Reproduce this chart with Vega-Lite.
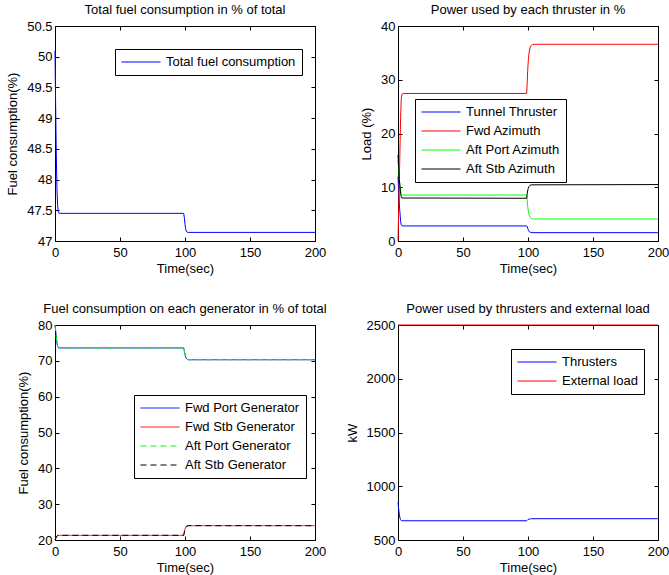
{
  "$schema": "https://vega.github.io/schema/vega-lite/v6.json",
  "padding": {"left": 6, "top": 3, "right": 5, "bottom": 0},
  "bounds": "flush",
  "columns": 2,
  "spacing": {"row": 84, "column": 83},
  "datasets": {
    "p1": [
      {"s": "Total fuel consumption", "t": 0, "v": 50.1},
      {"s": "Total fuel consumption", "t": 0.5, "v": 49.2},
      {"s": "Total fuel consumption", "t": 1, "v": 48.4},
      {"s": "Total fuel consumption", "t": 1.5, "v": 47.85},
      {"s": "Total fuel consumption", "t": 2, "v": 47.58},
      {"s": "Total fuel consumption", "t": 2.5, "v": 47.48},
      {"s": "Total fuel consumption", "t": 3, "v": 47.455},
      {"s": "Total fuel consumption", "t": 4, "v": 47.45},
      {"s": "Total fuel consumption", "t": 99, "v": 47.45},
      {"s": "Total fuel consumption", "t": 99.5, "v": 47.38},
      {"s": "Total fuel consumption", "t": 100, "v": 47.27},
      {"s": "Total fuel consumption", "t": 100.5, "v": 47.2},
      {"s": "Total fuel consumption", "t": 101, "v": 47.16},
      {"s": "Total fuel consumption", "t": 101.5, "v": 47.145},
      {"s": "Total fuel consumption", "t": 102.5, "v": 47.14},
      {"s": "Total fuel consumption", "t": 200, "v": 47.14}
    ],
    "p2": [
      {"s": "Tunnel Thruster", "t": 0, "v": 12},
      {"s": "Tunnel Thruster", "t": 1, "v": 7},
      {"s": "Tunnel Thruster", "t": 2, "v": 3.6},
      {"s": "Tunnel Thruster", "t": 2.5, "v": 3.0},
      {"s": "Tunnel Thruster", "t": 3, "v": 2.85},
      {"s": "Tunnel Thruster", "t": 4, "v": 2.8},
      {"s": "Tunnel Thruster", "t": 99, "v": 2.8},
      {"s": "Tunnel Thruster", "t": 99.5, "v": 2.6},
      {"s": "Tunnel Thruster", "t": 100, "v": 2.2},
      {"s": "Tunnel Thruster", "t": 100.5, "v": 1.9},
      {"s": "Tunnel Thruster", "t": 101, "v": 1.72},
      {"s": "Tunnel Thruster", "t": 102, "v": 1.6},
      {"s": "Tunnel Thruster", "t": 103, "v": 1.55},
      {"s": "Tunnel Thruster", "t": 200, "v": 1.55},
      {"s": "Fwd Azimuth", "t": 0, "v": 0},
      {"s": "Fwd Azimuth", "t": 1, "v": 11},
      {"s": "Fwd Azimuth", "t": 2, "v": 23},
      {"s": "Fwd Azimuth", "t": 2.5, "v": 26.5},
      {"s": "Fwd Azimuth", "t": 3, "v": 27.3},
      {"s": "Fwd Azimuth", "t": 4, "v": 27.45},
      {"s": "Fwd Azimuth", "t": 99, "v": 27.45},
      {"s": "Fwd Azimuth", "t": 99.3, "v": 29},
      {"s": "Fwd Azimuth", "t": 99.7, "v": 31.5},
      {"s": "Fwd Azimuth", "t": 100.2, "v": 33.5},
      {"s": "Fwd Azimuth", "t": 100.8, "v": 35},
      {"s": "Fwd Azimuth", "t": 101.5, "v": 35.9},
      {"s": "Fwd Azimuth", "t": 102.5, "v": 36.4},
      {"s": "Fwd Azimuth", "t": 103.5, "v": 36.55},
      {"s": "Fwd Azimuth", "t": 105, "v": 36.6},
      {"s": "Fwd Azimuth", "t": 200, "v": 36.6},
      {"s": "Aft Port Azimuth", "t": 0, "v": 15},
      {"s": "Aft Port Azimuth", "t": 1, "v": 11.5},
      {"s": "Aft Port Azimuth", "t": 2, "v": 9.3},
      {"s": "Aft Port Azimuth", "t": 2.5, "v": 8.8},
      {"s": "Aft Port Azimuth", "t": 3, "v": 8.6},
      {"s": "Aft Port Azimuth", "t": 4, "v": 8.55},
      {"s": "Aft Port Azimuth", "t": 99, "v": 8.55},
      {"s": "Aft Port Azimuth", "t": 99.3, "v": 7.8},
      {"s": "Aft Port Azimuth", "t": 99.7, "v": 6.6},
      {"s": "Aft Port Azimuth", "t": 100.2, "v": 5.6},
      {"s": "Aft Port Azimuth", "t": 100.8, "v": 4.9},
      {"s": "Aft Port Azimuth", "t": 101.5, "v": 4.45},
      {"s": "Aft Port Azimuth", "t": 102.5, "v": 4.2},
      {"s": "Aft Port Azimuth", "t": 103.5, "v": 4.1},
      {"s": "Aft Port Azimuth", "t": 200, "v": 4.1},
      {"s": "Aft Stb Azimuth", "t": 0, "v": 16},
      {"s": "Aft Stb Azimuth", "t": 1, "v": 11.5},
      {"s": "Aft Stb Azimuth", "t": 2, "v": 8.8},
      {"s": "Aft Stb Azimuth", "t": 2.5, "v": 8.2},
      {"s": "Aft Stb Azimuth", "t": 3, "v": 8.0},
      {"s": "Aft Stb Azimuth", "t": 99, "v": 7.95},
      {"s": "Aft Stb Azimuth", "t": 99.3, "v": 8.6},
      {"s": "Aft Stb Azimuth", "t": 99.7, "v": 9.3},
      {"s": "Aft Stb Azimuth", "t": 100.2, "v": 9.8},
      {"s": "Aft Stb Azimuth", "t": 100.8, "v": 10.15},
      {"s": "Aft Stb Azimuth", "t": 101.5, "v": 10.35},
      {"s": "Aft Stb Azimuth", "t": 102.5, "v": 10.45},
      {"s": "Aft Stb Azimuth", "t": 200, "v": 10.5}
    ],
    "p3": [
      {"s": "Fwd Port Generator", "t": 0, "v": 80},
      {"s": "Fwd Port Generator", "t": 0.5, "v": 78.5},
      {"s": "Fwd Port Generator", "t": 1, "v": 76.5},
      {"s": "Fwd Port Generator", "t": 1.5, "v": 75},
      {"s": "Fwd Port Generator", "t": 2, "v": 74.1},
      {"s": "Fwd Port Generator", "t": 2.5, "v": 73.7},
      {"s": "Fwd Port Generator", "t": 3, "v": 73.6},
      {"s": "Fwd Port Generator", "t": 99, "v": 73.6},
      {"s": "Fwd Port Generator", "t": 99.3, "v": 73.2},
      {"s": "Fwd Port Generator", "t": 99.7, "v": 72.3},
      {"s": "Fwd Port Generator", "t": 100.2, "v": 71.4},
      {"s": "Fwd Port Generator", "t": 100.8, "v": 70.8},
      {"s": "Fwd Port Generator", "t": 101.5, "v": 70.45},
      {"s": "Fwd Port Generator", "t": 102.5, "v": 70.3},
      {"s": "Fwd Port Generator", "t": 200, "v": 70.3},
      {"s": "Fwd Stb Generator", "t": 0, "v": 20},
      {"s": "Fwd Stb Generator", "t": 0.5, "v": 20.4},
      {"s": "Fwd Stb Generator", "t": 1, "v": 20.8},
      {"s": "Fwd Stb Generator", "t": 1.5, "v": 21.1},
      {"s": "Fwd Stb Generator", "t": 2, "v": 21.25},
      {"s": "Fwd Stb Generator", "t": 3, "v": 21.3},
      {"s": "Fwd Stb Generator", "t": 99, "v": 21.3},
      {"s": "Fwd Stb Generator", "t": 99.3, "v": 21.8},
      {"s": "Fwd Stb Generator", "t": 99.7, "v": 22.6},
      {"s": "Fwd Stb Generator", "t": 100.2, "v": 23.3},
      {"s": "Fwd Stb Generator", "t": 100.8, "v": 23.7},
      {"s": "Fwd Stb Generator", "t": 101.5, "v": 23.9},
      {"s": "Fwd Stb Generator", "t": 102.5, "v": 24.0},
      {"s": "Fwd Stb Generator", "t": 200, "v": 24.0},
      {"s": "Aft Port Generator", "t": 0, "v": 80},
      {"s": "Aft Port Generator", "t": 0.5, "v": 78.5},
      {"s": "Aft Port Generator", "t": 1, "v": 76.5},
      {"s": "Aft Port Generator", "t": 1.5, "v": 75},
      {"s": "Aft Port Generator", "t": 2, "v": 74.1},
      {"s": "Aft Port Generator", "t": 2.5, "v": 73.7},
      {"s": "Aft Port Generator", "t": 3, "v": 73.6},
      {"s": "Aft Port Generator", "t": 99, "v": 73.6},
      {"s": "Aft Port Generator", "t": 99.3, "v": 73.2},
      {"s": "Aft Port Generator", "t": 99.7, "v": 72.3},
      {"s": "Aft Port Generator", "t": 100.2, "v": 71.4},
      {"s": "Aft Port Generator", "t": 100.8, "v": 70.8},
      {"s": "Aft Port Generator", "t": 101.5, "v": 70.45},
      {"s": "Aft Port Generator", "t": 102.5, "v": 70.3},
      {"s": "Aft Port Generator", "t": 200, "v": 70.3},
      {"s": "Aft Stb Generator", "t": 0, "v": 20},
      {"s": "Aft Stb Generator", "t": 0.5, "v": 20.4},
      {"s": "Aft Stb Generator", "t": 1, "v": 20.8},
      {"s": "Aft Stb Generator", "t": 1.5, "v": 21.1},
      {"s": "Aft Stb Generator", "t": 2, "v": 21.25},
      {"s": "Aft Stb Generator", "t": 3, "v": 21.3},
      {"s": "Aft Stb Generator", "t": 99, "v": 21.3},
      {"s": "Aft Stb Generator", "t": 99.3, "v": 21.8},
      {"s": "Aft Stb Generator", "t": 99.7, "v": 22.6},
      {"s": "Aft Stb Generator", "t": 100.2, "v": 23.3},
      {"s": "Aft Stb Generator", "t": 100.8, "v": 23.7},
      {"s": "Aft Stb Generator", "t": 101.5, "v": 23.9},
      {"s": "Aft Stb Generator", "t": 102.5, "v": 24.0},
      {"s": "Aft Stb Generator", "t": 200, "v": 24.0}
    ],
    "p4": [
      {"s": "Thrusters", "t": 0, "v": 850},
      {"s": "Thrusters", "t": 0.5, "v": 790},
      {"s": "Thrusters", "t": 1, "v": 740},
      {"s": "Thrusters", "t": 1.5, "v": 705},
      {"s": "Thrusters", "t": 2, "v": 688},
      {"s": "Thrusters", "t": 2.5, "v": 681},
      {"s": "Thrusters", "t": 3, "v": 679},
      {"s": "Thrusters", "t": 99, "v": 679},
      {"s": "Thrusters", "t": 99.5, "v": 684},
      {"s": "Thrusters", "t": 100, "v": 690},
      {"s": "Thrusters", "t": 101, "v": 695},
      {"s": "Thrusters", "t": 102, "v": 697},
      {"s": "Thrusters", "t": 103, "v": 698},
      {"s": "Thrusters", "t": 200, "v": 698},
      {"s": "External load", "t": 0, "v": 2500},
      {"s": "External load", "t": 200, "v": 2500}
    ]
  },
  "concat": [
    {
      "width": 260, "height": 215,
      "title": {"text": "Total fuel consumption in % of total"},
      "data": {"name": "p1"},
      "layer": [
        {
          "mark": {"type": "line", "strokeWidth": 1},
          "encoding": {
            "x": {"field": "t", "type": "quantitative", "scale": {"domain": [0, 200], "nice": false}, "axis": {"title": "Time(sec)", "values": [0, 50, 100, 150, 200]}},
            "y": {"field": "v", "type": "quantitative", "scale": {"domain": [47, 50.5], "nice": false, "zero": false}, "axis": {"title": "Fuel consumption(%)", "values": [47, 47.5, 48, 48.5, 49, 49.5, 50, 50.5], "format": "~g"}},
            "color": {"field": "s", "type": "nominal", "scale": {"domain": ["Total fuel consumption"], "range": ["#0000ff"]}, "legend": {"title": null, "legendX": 60, "legendY": 23}}
          }
        },
        {
          "mark": {"type": "line", "opacity": 0},
          "encoding": {
            "x": {"field": "t", "type": "quantitative", "axis": {"orient": "top", "labels": false, "title": null, "values": [0, 50, 100, 150, 200]}},
            "y": {"field": "v", "type": "quantitative", "axis": {"orient": "right", "labels": false, "title": null, "values": [47, 47.5, 48, 48.5, 49, 49.5, 50, 50.5]}}
          }
        }
      ],
      "resolve": {"axis": {"x": "independent", "y": "independent"}}
    },
    {
      "width": 260, "height": 215,
      "title": {"text": "Power used by each thruster in %"},
      "data": {"name": "p2"},
      "layer": [
        {
          "mark": {"type": "line", "strokeWidth": 1},
          "encoding": {
            "x": {"field": "t", "type": "quantitative", "scale": {"domain": [0, 200], "nice": false}, "axis": {"title": "Time(sec)", "values": [0, 50, 100, 150, 200]}},
            "y": {"field": "v", "type": "quantitative", "scale": {"domain": [0, 40], "nice": false}, "axis": {"title": "Load (%)", "values": [0, 10, 20, 30, 40]}},
            "color": {"field": "s", "type": "nominal", "scale": {"domain": ["Tunnel Thruster", "Fwd Azimuth", "Aft Port Azimuth", "Aft Stb Azimuth"], "range": ["#0000ff", "#ff0000", "#00ff00", "#000000"]}, "legend": {"title": null, "legendX": 17, "legendY": 73}}
          }
        },
        {
          "mark": {"type": "line", "opacity": 0},
          "encoding": {
            "x": {"field": "t", "type": "quantitative", "axis": {"orient": "top", "labels": false, "title": null, "values": [0, 50, 100, 150, 200]}},
            "y": {"field": "v", "type": "quantitative", "axis": {"orient": "right", "labels": false, "title": null, "values": [0, 10, 20, 30, 40]}}
          }
        }
      ],
      "resolve": {"axis": {"x": "independent", "y": "independent"}}
    },
    {
      "width": 260, "height": 215,
      "title": {"text": "Fuel consumption on each generator in % of total"},
      "data": {"name": "p3"},
      "layer": [
        {
          "mark": {"type": "line", "strokeWidth": 1},
          "encoding": {
            "x": {"field": "t", "type": "quantitative", "scale": {"domain": [0, 200], "nice": false}, "axis": {"title": "Time(sec)", "values": [0, 50, 100, 150, 200]}},
            "y": {"field": "v", "type": "quantitative", "scale": {"domain": [20, 80], "nice": false, "zero": false}, "axis": {"title": "Fuel consumption(%)", "values": [20, 30, 40, 50, 60, 70, 80]}},
            "color": {"field": "s", "type": "nominal", "scale": {"domain": ["Fwd Port Generator", "Fwd Stb Generator", "Aft Port Generator", "Aft Stb Generator"], "range": ["#0000ff", "#ff0000", "#00ff00", "#000000"]}, "legend": {"title": null, "legendX": 79, "legendY": 70}},
            "strokeDash": {"field": "s", "type": "nominal", "scale": {"domain": ["Fwd Port Generator", "Fwd Stb Generator", "Aft Port Generator", "Aft Stb Generator"], "range": [[1, 0], [1, 0], [6, 4], [6, 4]]}, "legend": {"title": null, "legendX": 79, "legendY": 70}}
          }
        },
        {
          "mark": {"type": "line", "opacity": 0},
          "encoding": {
            "x": {"field": "t", "type": "quantitative", "axis": {"orient": "top", "labels": false, "title": null, "values": [0, 50, 100, 150, 200]}},
            "y": {"field": "v", "type": "quantitative", "axis": {"orient": "right", "labels": false, "title": null, "values": [20, 30, 40, 50, 60, 70, 80]}}
          }
        }
      ],
      "resolve": {"axis": {"x": "independent", "y": "independent"}}
    },
    {
      "width": 260, "height": 215,
      "title": {"text": "Power used by thrusters and external load"},
      "data": {"name": "p4"},
      "layer": [
        {
          "mark": {"type": "line", "strokeWidth": 1},
          "encoding": {
            "x": {"field": "t", "type": "quantitative", "scale": {"domain": [0, 200], "nice": false}, "axis": {"title": "Time(sec)", "values": [0, 50, 100, 150, 200]}},
            "y": {"field": "v", "type": "quantitative", "scale": {"domain": [500, 2500], "nice": false, "zero": false}, "axis": {"title": "kW", "values": [500, 1000, 1500, 2000, 2500], "format": "d"}},
            "color": {"field": "s", "type": "nominal", "scale": {"domain": ["Thrusters", "External load"], "range": ["#0000ff", "#ff0000"]}, "legend": {"title": null, "legendX": 113, "legendY": 24}}
          }
        },
        {
          "mark": {"type": "line", "opacity": 0},
          "encoding": {
            "x": {"field": "t", "type": "quantitative", "axis": {"orient": "top", "labels": false, "title": null, "values": [0, 50, 100, 150, 200]}},
            "y": {"field": "v", "type": "quantitative", "axis": {"orient": "right", "labels": false, "title": null, "values": [500, 1000, 1500, 2000, 2500]}}
          }
        }
      ],
      "resolve": {"axis": {"x": "independent", "y": "independent"}}
    }
  ],
  "resolve": {
    "scale": {"color": "independent", "strokeDash": "independent"},
    "legend": {"color": "independent", "strokeDash": "independent"}
  },
  "config": {
    "font": "Liberation Sans",
    "view": {"stroke": "#000000", "strokeWidth": 1},
    "axis": {
      "grid": false, "domain": false, "tickColor": "#000000", "tickSize": -4,
      "labelColor": "#000000", "labelFontSize": 13, "labelFlush": false, "labelOverlap": false,
      "labelPadding": 9, "titleFontSize": 13, "titleFontWeight": "normal", "titleColor": "#000000", "titlePadding": 3
    },
    "axisY": {"titlePadding": 7, "labelPadding": 7},
    "title": {"fontSize": 13, "fontWeight": "normal", "color": "#000000", "offset": 3, "frame": "group"},
    "style": {"group-title": {"fontSize": 13, "fontWeight": "normal"}},
    "legend": {
      "orient": "none", "strokeColor": "#000000", "fillColor": "#ffffff", "padding": 6,
      "labelFontSize": 13, "labelColor": "#000000", "symbolType": "M-1,0H5", "symbolSize": 169,
      "symbolStrokeWidth": 1, "rowPadding": 5, "labelOffset": 31, "cornerRadius": 0
    }
  }
}
